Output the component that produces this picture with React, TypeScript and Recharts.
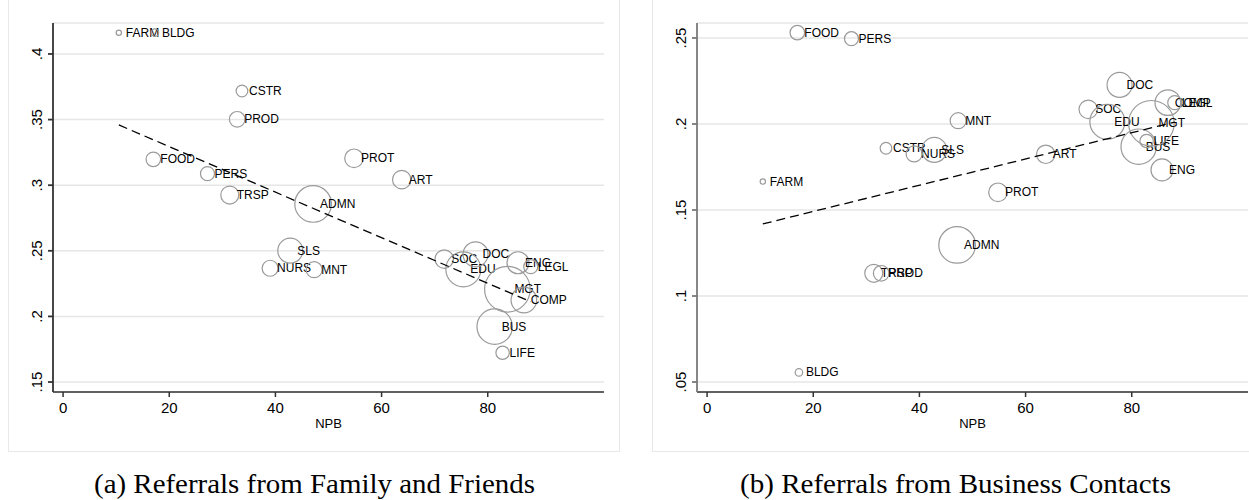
import { ScatterChart, Scatter, XAxis, YAxis, ZAxis, CartesianGrid } from 'recharts';

// occupation groups, same order in every array below
const occupations = ['FARM', 'BLDG', 'FOOD', 'PERS', 'TRSP', 'PROD', 'CSTR', 'NURS', 'SLS', 'ADMN', 'MNT',
  'PROT', 'ART', 'SOC', 'EDU', 'DOC', 'BUS', 'LIFE', 'MGT', 'ENG', 'COMP', 'LEGL'];
const npb = [10.5, 17.3, 17.0, 27.2, 31.4, 32.8, 33.7, 39.0, 42.8, 47.1, 47.3,
  54.8, 63.8, 71.8, 75.4, 77.7, 81.3, 82.8, 83.7, 85.7, 86.8, 88.1];
// relative employment (bubble weight)
const employment = [0.7, 1.4, 5.3, 4.9, 8.1, 6.1, 3.4, 6.4, 15.6, 33.5, 6.4,
  8.6, 8.5, 8.5, 30.6, 15.6, 31.3, 4.5, 52.0, 12.1, 16.4, 4.9];
const shareFamily = [0.4162, 0.4162, 0.3197, 0.3088, 0.2925, 0.3502, 0.3718, 0.2367, 0.2501, 0.2857, 0.2356,
  0.3205, 0.3042, 0.2437, 0.2359, 0.2473, 0.1922, 0.1723, 0.2207, 0.2409, 0.2125, 0.2379];
const shareBusiness = [0.1665, 0.0556, 0.2531, 0.2496, 0.1132, 0.1132, 0.1859, 0.1826, 0.1849, 0.1297, 0.2019,
  0.1603, 0.1824, 0.2085, 0.2013, 0.2227, 0.1868, 0.1901, 0.2004, 0.1733, 0.2124, 0.2124];

// fitted line endpoints
const fitX = [10.5, 88.1];
const fitFamily = [0.3459, 0.2112];
const fitBusiness = [0.1419, 0.2011];

const xTicks = [0, 20, 40, 60, 80];
const yTicksFamily = [0.15, 0.2, 0.25, 0.3, 0.35, 0.4];
const yTicksBusiness = [0.05, 0.1, 0.15, 0.2, 0.25];

const FONT = '"Liberation Sans", Arial, sans-serif';
const SERIF = '"Liberation Serif", "Times New Roman", serif';
const AXIS = '#333';
const GRID = '#e6e6e6';
const BUBBLE = '#9a9a9a';

// stata style: .25 instead of 0.25
function stataNum(v: number) {
  return String(+v.toFixed(2)).replace(/^0/, '');
}

function YTick({ x, y, payload }: any) {
  const cx = x - 9;
  return (
    <text x={cx} y={y} transform={`rotate(-90, ${cx}, ${y})`} textAnchor="middle"
      dominantBaseline="central" fontSize={15} fontFamily={FONT} fill="#000">
      {stataNum(payload.value)}
    </text>
  );
}

function Bubble(props: any) {
  const { cx, cy, size, payload } = props;
  const r = Math.sqrt(Math.max(size ?? 0, 0) / Math.PI);
  return (
    <g>
      <circle cx={cx} cy={cy} r={r} fill="none" stroke={BUBBLE} strokeWidth={1.2} />
      <text x={cx + 7} y={cy} dominantBaseline="central" fontSize={12} fontFamily={FONT} fill="#000">
        {payload.occ}
      </text>
    </g>
  );
}

function Panel({ share, fit, yDomain, yTicks, left, yColor }: any) {
  const points = occupations.map((occ, i) => ({ occ, npb: npb[i], share: share[i], w: employment[i] }));
  const line = fitX.map((x, i) => ({ npb: x, share: fit[i] }));
  return (
    <div style={{ position: 'absolute', left, top: 0 }}>
      <ScatterChart width={630} height={452} margin={{ top: 23, right: 26, bottom: 24, left: 13 }}>
        <CartesianGrid vertical={false} stroke={GRID} strokeWidth={1.5} />
        <XAxis type="number" dataKey="npb" domain={[-1.9, 101.9]} ticks={xTicks} allowDataOverflow
          height={36} stroke={AXIS} strokeWidth={1.5} tickSize={5} tickMargin={5}
          tick={{ fontSize: 15, fill: '#000', fontFamily: FONT }}
          label={{ value: 'NPB', position: 'insideBottom', offset: 0, fontSize: 13, fill: '#000', fontFamily: FONT }} />
        <YAxis type="number" dataKey="share" domain={yDomain} ticks={yTicks} allowDataOverflow
          width={40} stroke={yColor} strokeWidth={1.8} tickSize={5} tick={<YTick />} />
        <ZAxis type="number" dataKey="w" domain={[0, 52]} range={[0, 1633]} />
        <Scatter data={points} shape={<Bubble />} isAnimationActive={false} />
        <Scatter data={line} line={{ stroke: '#000', strokeWidth: 1.3, strokeDasharray: '9 5' }}
          shape={() => <g />} isAnimationActive={false} />
      </ScatterChart>
    </div>
  );
}

export default function App() {
  return (
    <div style={{ position: 'absolute', left: 0, top: 0, width: 1249, height: 500, background: '#fff', overflow: 'hidden' }}>
      <div style={{ position: 'absolute', left: 8, top: -1, width: 612, height: 453, border: '1px solid #e8e8e8', boxSizing: 'border-box' }} />
      <div style={{ position: 'absolute', left: 652, top: -1, width: 620, height: 453, border: '1px solid #e8e8e8', boxSizing: 'border-box' }} />
      <Panel share={shareFamily} fit={fitFamily} yDomain={[0.1424, 0.4236]} yTicks={yTicksFamily} left={0} yColor={AXIS} />
      <Panel share={shareBusiness} fit={fitBusiness} yDomain={[0.0442, 0.2587]} yTicks={yTicksBusiness} left={644} yColor="#7a7a7a" />
      <svg width={1249} height={500} style={{ position: 'absolute', left: 0, top: 0, pointerEvents: 'none' }}>
        <text x={314.5} y={493} textAnchor="middle" fontFamily={SERIF} fontSize={27} fill="#000"
          textLength={441} lengthAdjust="spacingAndGlyphs">(a) Referrals from Family and Friends</text>
        <text x={955.5} y={493} textAnchor="middle" fontFamily={SERIF} fontSize={27} fill="#000"
          textLength={431} lengthAdjust="spacingAndGlyphs">(b) Referrals from Business Contacts</text>
      </svg>
    </div>
  );
}
